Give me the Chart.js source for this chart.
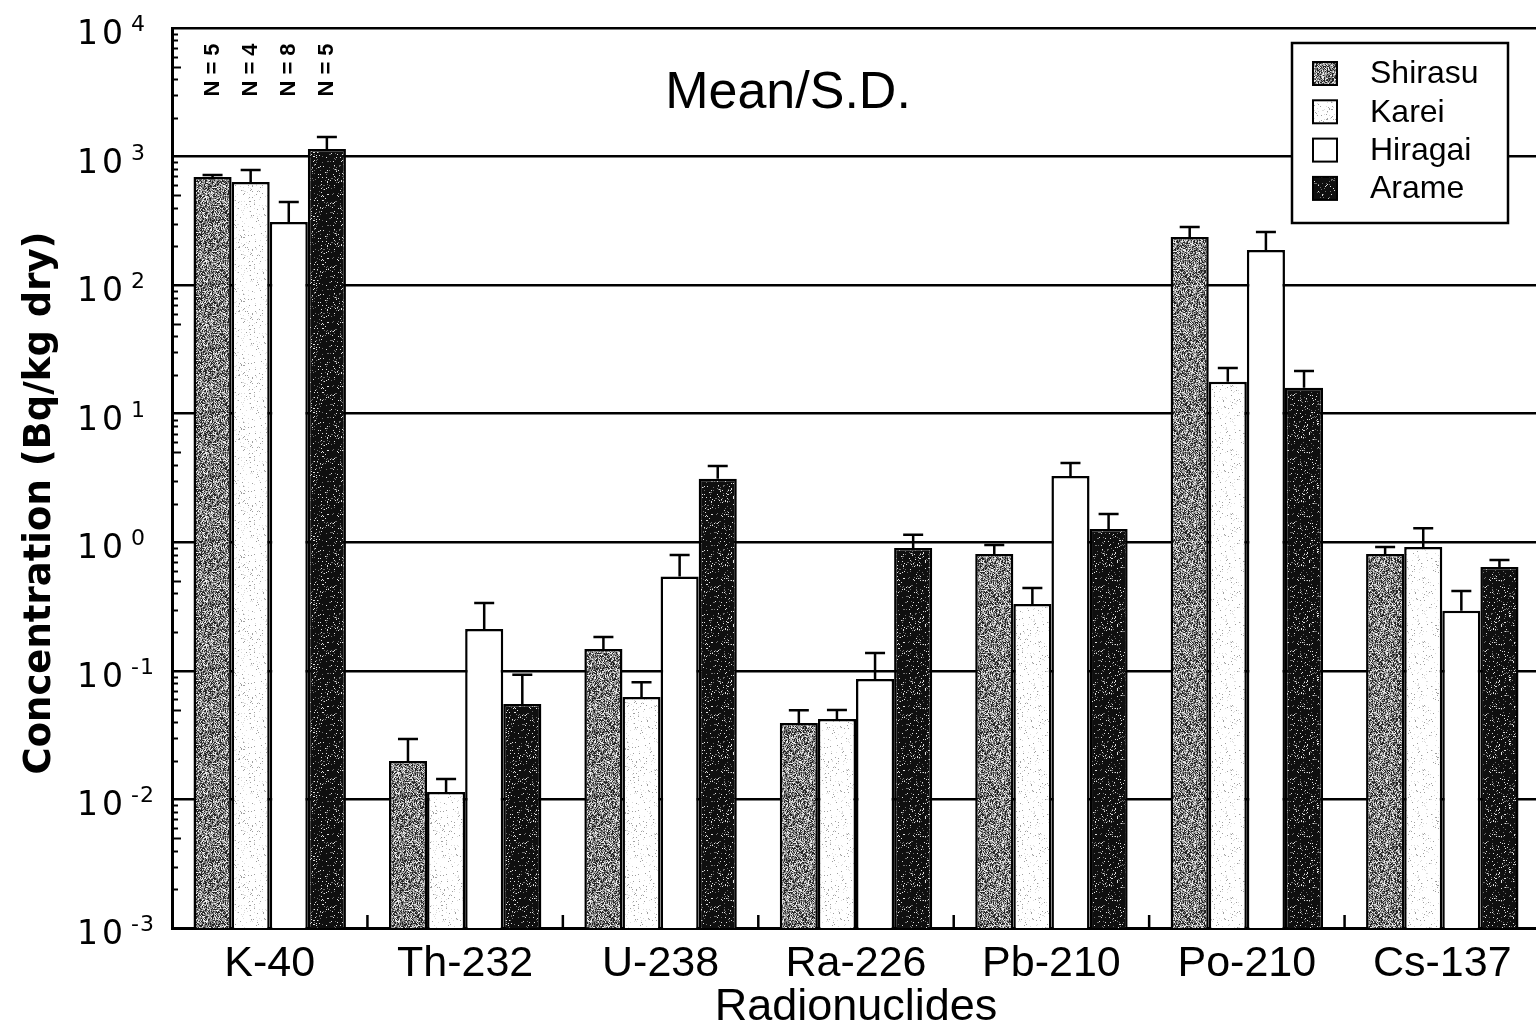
<!DOCTYPE html>
<html><head><meta charset="utf-8">
<script src="https://cdn.jsdelivr.net/npm/chart.js@4.4.1/dist/chart.umd.min.js"></script>
<style>
html,body{margin:0;padding:0;background:#fff;overflow:hidden;width:1536px;height:1028px}
#wrap{position:absolute;left:0;top:0;width:1544px;height:1028px}
</style>
</head><body><div id="wrap"><canvas id="c" width="1544" height="1028"></canvas></div>
<script>
// ---- data ----
const categories = ['K-40', 'Th-232', 'U-238', 'Ra-226', 'Pb-210', 'Po-210', 'Cs-137'];
const seriesNames = ['Shirasu', 'Karei', 'Hiragai', 'Arame'];
const sampleSizes = ['N = 5', 'N = 4', 'N = 8', 'N = 5'];
const shirasuMean = [693, 0.0199, 0.148, 0.0393, 0.811, 237, 0.811];
const shirasuSD   = [26, 0.0096, 0.035, 0.010, 0.14, 46, 0.11];
const kareiMean   = [634, 0.0114, 0.0627, 0.0422, 0.331, 17.7, 0.918];
const kareiSD     = [153, 0.003, 0.019, 0.0074, 0.11, 5.0, 0.37];
const hiragaiMean = [310, 0.212, 0.541, 0.0865, 3.28, 188, 0.293];
const hiragaiSD   = [133, 0.125, 0.256, 0.051, 0.86, 71, 0.125];
const arameMean   = [1146, 0.0553, 3.12, 0.903, 1.27, 15.9, 0.643];
const arameSD     = [274, 0.038, 0.8, 0.24, 0.39, 5.6, 0.085];
const yTickExponents = [-3, -2, -1, 0, 1, 2, 3, 4];
const chartTitle = 'Mean/S.D.';
const xTitle = 'Radionuclides';
const yTitle = 'Concentration (Bq/kg dry)';

// ---- textures ----
function makePattern(kind) {
  const c = document.createElement('canvas');
  c.width = 64; c.height = 64;
  const g = c.getContext('2d');
  let s = kind === 'shirasu' ? 12345 : kind === 'karei' ? 777 : 4242;
  const rnd = () => (s = (Math.imul(s, 1664525) + 1013904223) >>> 0) / 4294967296;
  const img = g.createImageData(64, 64);
  for (let i = 0; i < 64 * 64; i++) {
    const r = rnd();
    let v;
    if (kind === 'shirasu') {
      v = r < 0.3 ? 35 : r < 0.52 ? 105 : r < 0.8 ? 165 : 235;
    } else if (kind === 'karei') {
      v = r < 0.035 ? 160 : r < 0.08 ? 220 : 255;
    } else {
      v = r < 0.05 ? 225 : r < 0.11 ? 110 : 15;
    }
    img.data[i * 4] = v; img.data[i * 4 + 1] = v; img.data[i * 4 + 2] = v; img.data[i * 4 + 3] = 255;
  }
  g.putImageData(img, 0, 0);
  return g.createPattern(c, 'repeat');
}
const fills = [makePattern('shirasu'), makePattern('karei'), '#ffffff', makePattern('arame')];

const means = [shirasuMean, kareiMean, hiragaiMean, arameMean];
const sds = [shirasuSD, kareiSD, hiragaiSD, arameSD];

const datasets = seriesNames.map((name, i) => ({
  label: name,
  data: means[i],
  sd: sds[i],
  backgroundColor: fills[i],
  borderColor: '#000',
  borderWidth: 2.5,
  borderSkipped: 'start',
  categoryPercentage: 0.78,
  barPercentage: 1.0
}));

const decor = {
  id: 'decor',
  afterDatasetsDraw(chart) {
    const { ctx, scales: { y } } = chart;
    ctx.save();
    ctx.strokeStyle = '#000';
    ctx.lineWidth = 2.5;
    chart.data.datasets.forEach((ds, di) => {
      const meta = chart.getDatasetMeta(di);
      meta.data.forEach((bar, i) => {
        const top = y.getPixelForValue(ds.data[i]);
        const e = y.getPixelForValue(ds.data[i] + ds.sd[i]);
        ctx.beginPath();
        ctx.moveTo(bar.x, top);
        ctx.lineTo(bar.x, e);
        ctx.moveTo(bar.x - 10, e);
        ctx.lineTo(bar.x + 10, e);
        ctx.stroke();
      });
    });
    ctx.restore();
  },
  afterDraw(chart) {
    const { ctx, chartArea: ca, scales: { x, y } } = chart;
    ctx.save();
    ctx.fillStyle = '#000';
    ctx.strokeStyle = '#000';
    // y minor ticks (inward)
    ctx.lineWidth = 2;
    for (let k = 0; k < yTickExponents.length - 1; k++) {
      const e = yTickExponents[k];
      for (let m = 2; m <= 9; m++) {
        const py = Math.round(y.getPixelForValue(m * Math.pow(10, e))) + 0.5;
        const len = m === 5 ? 9 : 6;
        ctx.beginPath(); ctx.moveTo(ca.left, py); ctx.lineTo(ca.left + len, py); ctx.stroke();
      }
    }
    // x boundary ticks (inward)
    ctx.lineWidth = 2.5;
    for (let i = 1; i < categories.length; i++) {
      const px = (x.getPixelForValue(i - 1) + x.getPixelForValue(i)) / 2;
      ctx.beginPath(); ctx.moveTo(px, ca.bottom); ctx.lineTo(px, ca.bottom - 13); ctx.stroke();
    }
    // y tick labels 10^n
    yTickExponents.forEach(e => {
      const py = y.getPixelForValue(Math.pow(10, e));
      ctx.textAlign = 'left';
      ctx.textBaseline = 'alphabetic';
      ctx.font = '33px "DejaVu Sans"';
      ctx.letterSpacing = '4px';
      ctx.fillText('10', 77, py + 16);
      ctx.letterSpacing = '1px';
      ctx.font = '22px "DejaVu Sans"';
      ctx.fillText(String(e), 131, py + 3);
      ctx.letterSpacing = '0px';
    });
    // y axis title
    ctx.save();
    ctx.translate(50, 503);
    ctx.rotate(-Math.PI / 2);
    ctx.font = 'bold 37px "DejaVu Sans"';
    ctx.textAlign = 'center';
    ctx.textBaseline = 'alphabetic';
    ctx.fillText(yTitle, 0, 0);
    ctx.restore();
    // chart title
    ctx.font = '52px "Liberation Sans"';
    ctx.textAlign = 'center';
    ctx.textBaseline = 'alphabetic';
    ctx.fillText(chartTitle, 788, 108);
    // N labels
    chart.data.datasets.forEach((ds, di) => {
      const bar = chart.getDatasetMeta(di).data[0];
      ctx.save();
      ctx.translate(bar.x, 70);
      ctx.rotate(-Math.PI / 2);
      ctx.font = 'bold 22px "Liberation Sans"';
      ctx.textAlign = 'center';
      ctx.textBaseline = 'middle';
      ctx.fillText(sampleSizes[di], 0, 0);
      ctx.restore();
    });
    // legend
    const lx = 1292, ly = 43, lw = 216, lh = 180;
    ctx.fillStyle = '#fff';
    ctx.fillRect(lx, ly, lw, lh);
    ctx.lineWidth = 2.5;
    ctx.strokeRect(lx, ly, lw, lh);
    chart.data.datasets.forEach((ds, di) => {
      const cy = 73.5 + di * 38.3;
      ctx.fillStyle = ds.backgroundColor;
      ctx.fillRect(1313, cy - 11.5, 24, 23);
      ctx.lineWidth = 2;
      ctx.strokeRect(1313, cy - 11.5, 24, 23);
      ctx.fillStyle = '#000';
      ctx.font = '32px "Liberation Sans"';
      ctx.textAlign = 'left';
      ctx.textBaseline = 'middle';
      ctx.fillText(ds.label, 1370, cy + 1);
    });
    ctx.restore();
  }
};

new Chart(document.getElementById('c'), {
  type: 'bar',
  data: { labels: categories, datasets },
  options: {
    responsive: false,
    animation: false,
    devicePixelRatio: 1,
    layout: { padding: { top: 28, right: 4, left: 0, bottom: 0 } },
    plugins: { legend: { display: false }, tooltip: { enabled: false }, title: { display: false } },
    scales: {
      x: {
        grid: { display: false, drawTicks: false },
        border: { display: true, color: '#000', width: 3 },
        ticks: { color: '#000', font: { family: 'Liberation Sans', size: 43 }, padding: 10, maxRotation: 0 },
        title: { display: true, text: xTitle, color: '#000', font: { family: 'Liberation Sans', size: 45, lineHeight: 0.9 }, padding: { top: 0, bottom: 0 } },
        afterFit(scale) { scale.height = 100; }
      },
      y: {
        type: 'logarithmic',
        min: 1e-3,
        max: 1e4,
        afterBuildTicks(scale) { scale.ticks = yTickExponents.map(e => ({ value: Math.pow(10, e) })); },
        ticks: { display: false },
        grid: { color: '#000', lineWidth: 2.5, drawTicks: false },
        border: { display: true, color: '#000', width: 3 },
        afterFit(scale) { scale.width = 172; }
      }
    }
  },
  plugins: [decor]
});
</script>
</body></html>
